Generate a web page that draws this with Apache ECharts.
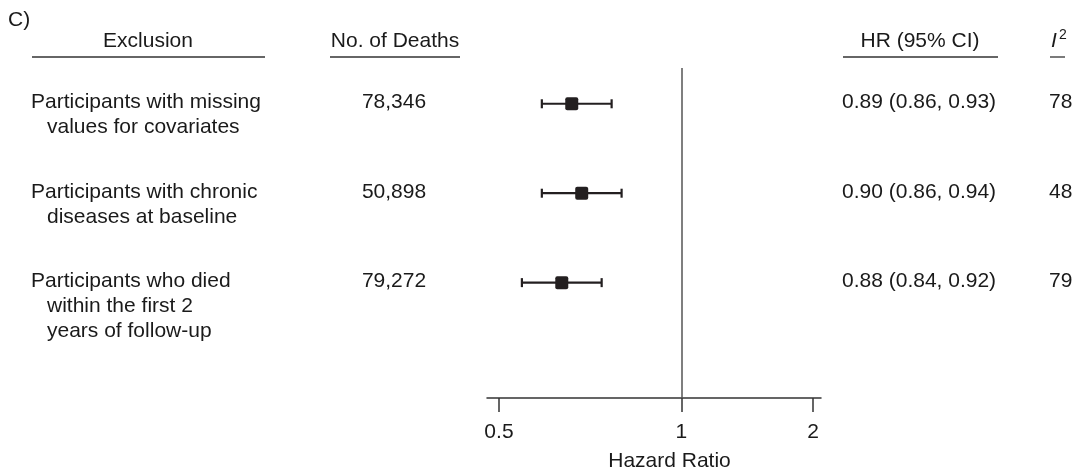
<!DOCTYPE html>
<html>
<head>
<meta charset="utf-8">
<script src="https://cdn.jsdelivr.net/npm/echarts@6/dist/echarts.min.js"></script>
<style>
  html, body { margin: 0; padding: 0; background: #fff; }
  #chart { width: 1077px; height: 470px; }
</style>
</head>
<body>
<div id="chart"></div>
<script>
// Sensitivity analyses: each row excludes one group of participants
const exclusions = [
  ['Participants with missing', 'values for covariates'],
  ['Participants with chronic', 'diseases at baseline'],
  ['Participants who died', 'within the first 2', 'years of follow-up']
];
const deaths = ['78,346', '50,898', '79,272'];
const hazardRatio = [0.89, 0.90, 0.88];
const ciLower = [0.86, 0.86, 0.84];
const ciUpper = [0.93, 0.94, 0.92];
const iSquared = [78, 48, 79];

// Axis ticks as printed under the plot, placed on the plotting scale
const tickValues = [0.817, 1, 1.132];
const tickLabels = ['0.5', '1', '2'];

const FONT = '"Liberation Sans", Arial, Helvetica, sans-serif';
const INK = '#231f20';
const TEXT = '#1a1a1a';
const FS = 21;

// shared vertical layout for the plot grid and the text columns
const GRID_TOP = 68, GRID_BOTTOM = 72;
const Y_MIN = -0.4, Y_MAX = 3.29;

// horizontal anchors of the text columns
const COL_EXCL = 31, COL_DEATHS = 394, COL_HR = 842, COL_I2 = 1049;

const rows = exclusions.map((_, i) => i);

function tickLabel(v) {
  let best = 0;
  tickValues.forEach((t, i) => {
    if (Math.abs(t - v) < Math.abs(tickValues[best] - v)) best = i;
  });
  return tickLabels[best];
}

function fmt(v) { return v.toFixed(2); }

const baseLabel = {
  show: true,
  position: [0, 0],
  verticalAlign: 'top',
  fontSize: FS,
  fontFamily: FONT,
  color: TEXT,
  opacity: 1,
  lineHeight: 25,
  offset: [0, -14]
};

function textColumn(x, align, formatter, extra) {
  return {
    type: 'scatter',
    xAxisIndex: 1,
    yAxisIndex: 1,
    symbolSize: 0,
    silent: true,
    itemStyle: { opacity: 1 },
    data: rows.map(i => [x, i]),
    label: Object.assign({}, baseLabel, { align: align, formatter: formatter }, extra || {})
  };
}

const chart = echarts.init(document.getElementById('chart'), null, { renderer: 'canvas' });

const option = {
  backgroundColor: '#fff',
  animation: false,
  grid: [
    { left: 487, right: 256, top: GRID_TOP, bottom: GRID_BOTTOM, containLabel: false, outerBoundsMode: 'none' },
    { left: 0, right: 0, top: GRID_TOP, bottom: GRID_BOTTOM, containLabel: false, outerBoundsMode: 'none' }
  ],
  xAxis: [
    {
      type: 'value',
      gridIndex: 0,
      min: 0.805,
      max: 1.14,
      splitLine: { show: false },
      axisLine: { show: true, onZero: false, lineStyle: { color: '#333', width: 1.5 } },
      axisTick: {
        show: true, length: 14, inside: false,
        customValues: tickValues,
        lineStyle: { color: '#333', width: 1.5 }
      },
      axisLabel: {
        customValues: tickValues,
        formatter: v => tickLabel(v),
        margin: 24,
        fontSize: FS,
        fontFamily: FONT,
        color: TEXT
      },
      name: 'Hazard Ratio',
      nameLocation: 'middle',
      nameGap: 53,
      nameTextStyle: { fontSize: FS, fontFamily: FONT, color: TEXT, padding: [0, 0, 0, 31] }
    },
    { type: 'value', gridIndex: 1, min: 0, max: 1077, show: false }
  ],
  yAxis: [
    { type: 'value', gridIndex: 0, inverse: true, min: Y_MIN, max: Y_MAX, show: false },
    { type: 'value', gridIndex: 1, inverse: true, min: Y_MIN, max: Y_MAX, show: false }
  ],
  graphic: [
    { type: 'text', x: 8, y: 20, style: { text: 'C)', fontSize: FS, fontFamily: FONT, fill: TEXT, align: 'left', verticalAlign: 'middle' } },
    { type: 'text', x: 148, y: 41, style: { text: 'Exclusion', fontSize: FS, fontFamily: FONT, fill: TEXT, align: 'center', verticalAlign: 'middle' } },
    { type: 'text', x: 395, y: 41, style: { text: 'No. of Deaths', fontSize: FS, fontFamily: FONT, fill: TEXT, align: 'center', verticalAlign: 'middle' } },
    { type: 'text', x: 920, y: 41, style: { text: 'HR (95% CI)', fontSize: FS, fontFamily: FONT, fill: TEXT, align: 'center', verticalAlign: 'middle' } },
    { type: 'text', x: 1051, y: 41, style: { text: 'I', fontSize: FS, fontFamily: FONT, fontStyle: 'italic', fill: TEXT, align: 'left', verticalAlign: 'middle' } },
    { type: 'text', x: 1059, y: 35, style: { text: '2', fontSize: 14, fontFamily: FONT, fill: TEXT, align: 'left', verticalAlign: 'middle' } },
    { type: 'line', shape: { x1: 32, y1: 57, x2: 265, y2: 57 }, style: { stroke: '#333', lineWidth: 1.3 } },
    { type: 'line', shape: { x1: 330, y1: 57, x2: 460, y2: 57 }, style: { stroke: '#333', lineWidth: 1.3 } },
    { type: 'line', shape: { x1: 843, y1: 57, x2: 998, y2: 57 }, style: { stroke: '#333', lineWidth: 1.3 } },
    { type: 'line', shape: { x1: 1050, y1: 57, x2: 1065, y2: 57 }, style: { stroke: '#333', lineWidth: 1.3 } }
  ],
  series: [
    {
      // confidence intervals with square point estimates
      type: 'custom',
      xAxisIndex: 0,
      yAxisIndex: 0,
      silent: true,
      data: rows.map(i => [ciLower[i], ciUpper[i], hazardRatio[i], i]),
      encode: { x: [0, 1, 2], y: 3 },
      renderItem: function (params, api) {
        const row = api.value(3);
        const pLo = api.coord([api.value(0), row]);
        const pHi = api.coord([api.value(1), row]);
        const pMid = api.coord([api.value(2), row]);
        const cap = 4.5, half = 6.5;
        const lineStyle = { stroke: INK, lineWidth: 2.2 };
        return {
          type: 'group',
          children: [
            { type: 'line', shape: { x1: pLo[0], y1: pLo[1], x2: pHi[0], y2: pHi[1] }, style: lineStyle },
            { type: 'line', shape: { x1: pLo[0], y1: pLo[1] - cap, x2: pLo[0], y2: pLo[1] + cap }, style: lineStyle },
            { type: 'line', shape: { x1: pHi[0], y1: pHi[1] - cap, x2: pHi[0], y2: pHi[1] + cap }, style: lineStyle },
            { type: 'rect', shape: { x: pMid[0] - half, y: pMid[1] - half, width: half * 2, height: half * 2, r: 2 }, style: { fill: INK } }
          ]
        };
      },
      markLine: {
        silent: true,
        symbol: 'none',
        label: { show: false },
        lineStyle: { color: '#555', width: 1.5, type: 'solid' },
        data: [{ xAxis: 1 }]
      }
    },
    textColumn(COL_EXCL, 'left', p => {
      const lines = exclusions[p.dataIndex];
      return lines.map((t, k) => (k === 0 ? '{a|' + t + '}' : '{b|' + t + '}')).join('\n');
    }, {
      rich: {
        a: { fontSize: FS, fontFamily: FONT, color: TEXT, lineHeight: 25 },
        b: { fontSize: FS, fontFamily: FONT, color: TEXT, lineHeight: 25, padding: [0, 0, 0, 16] }
      }
    }),
    textColumn(COL_DEATHS, 'center', p => deaths[p.dataIndex]),
    textColumn(COL_HR, 'left', p => {
      const i = p.dataIndex;
      return fmt(hazardRatio[i]) + ' (' + fmt(ciLower[i]) + ', ' + fmt(ciUpper[i]) + ')';
    }),
    textColumn(COL_I2, 'left', p => String(iSquared[p.dataIndex]))
  ]
};

chart.setOption(option);
</script>
</body>
</html>
